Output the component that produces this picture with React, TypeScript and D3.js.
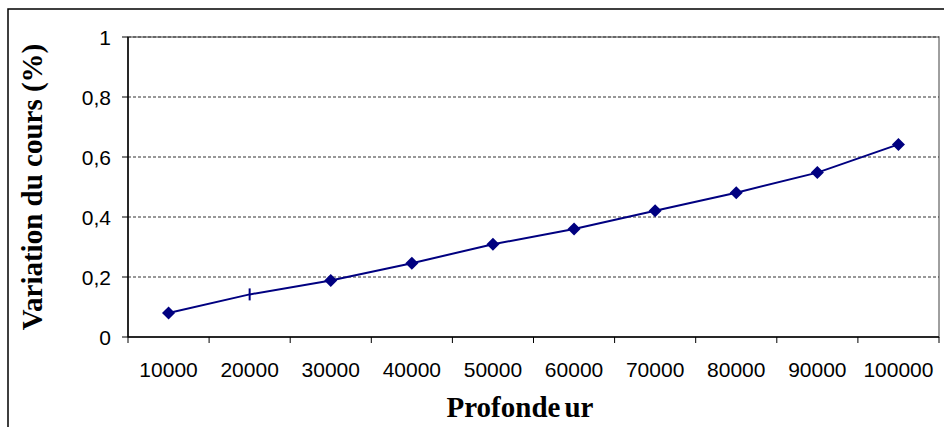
import React from "react";
import * as d3 from "d3";

// Categories (depth) and measured price variation (%)
const categories: string[] = ["10000", "20000", "30000", "40000", "50000", "60000", "70000", "80000", "90000", "100000"];
const variation: number[] = [0.08, 0.142, 0.188, 0.246, 0.309, 0.36, 0.421, 0.481, 0.548, 0.642];
// Point drawn with a dash marker instead of a diamond
const dashPoints: string[] = ["20000"];
const yTicks: number[] = [0, 0.2, 0.4, 0.6, 0.8, 1];
const yTickLabels: string[] = ["0", "0,2", "0,4", "0,6", "0,8", "1"];

const W = 944;
const H = 427;
const plot = { left: 128, right: 939, top: 37, bottom: 337 };

export default function App() {
  const x = d3.scaleBand<string>().domain(categories).range([plot.left, plot.right]).padding(0);
  const y = d3.scaleLinear().domain([0, 1]).range([plot.bottom, plot.top]);
  const cx = (c: string) => (x(c) ?? 0) + x.bandwidth() / 2;

  const data = categories.map((c, i) => ({ c, v: variation[i] }));
  const line = d3
    .line<{ c: string; v: number }>()
    .x((d) => cx(d.c))
    .y((d) => y(d.v));
  const diamond = d3.symbol().type(d3.symbolSquare).size(85)() ?? "";

  const boundaries = [...categories.map((c) => x(c) ?? 0), plot.right];
  const navy = "#000080";

  return (
    <svg
      width={W}
      height={H}
      style={{ position: "absolute", left: 0, top: 0, background: "#fff" }}
      fontFamily="'Liberation Sans', Arial, sans-serif"
    >
      {/* chart frame */}
      <rect x={8} y={9} width={W + 20} height={H + 20} fill="#fff" stroke="#000" strokeWidth={1.5} />

      {/* plot area border */}
      <rect
        x={plot.left}
        y={plot.top}
        width={plot.right - plot.left}
        height={plot.bottom - plot.top}
        fill="#fff"
        stroke="#808080"
        strokeWidth={1.5}
      />

      {/* horizontal gridlines */}
      {yTicks.slice(1).map((t) => (
        <line
          key={`g${t}`}
          x1={plot.left}
          x2={plot.right}
          y1={y(t)}
          y2={y(t)}
          stroke="#333"
          strokeWidth={1}
          strokeDasharray="3,2"
        />
      ))}

      {/* y axis */}
      <line x1={plot.left} x2={plot.left} y1={plot.top} y2={plot.bottom} stroke="#000" strokeWidth={1.5} />
      {yTicks.map((t, i) => (
        <g key={`y${t}`}>
          <line x1={plot.left - 6} x2={plot.left} y1={y(t)} y2={y(t)} stroke="#000" strokeWidth={1} />
          <text x={111} y={y(t)} dy="0.36em" textAnchor="end" fontSize={21} fill="#000">
            {yTickLabels[i]}
          </text>
        </g>
      ))}

      {/* x axis */}
      <line x1={plot.left} x2={plot.right} y1={plot.bottom} y2={plot.bottom} stroke="#000" strokeWidth={1.5} />
      {boundaries.map((b, i) => (
        <line key={`xt${i}`} x1={b} x2={b} y1={plot.bottom} y2={plot.bottom + 6} stroke="#000" strokeWidth={1} />
      ))}
      {categories.map((c) => (
        <text key={`xl${c}`} x={cx(c)} y={377} textAnchor="middle" fontSize={21} fill="#000">
          {c}
        </text>
      ))}

      {/* series */}
      <path d={line(data) ?? ""} fill="none" stroke={navy} strokeWidth={2} />
      {data.map((d) =>
        dashPoints.includes(d.c) ? (
          <line
            key={`m${d.c}`}
            x1={cx(d.c)}
            x2={cx(d.c)}
            y1={y(d.v) - 6}
            y2={y(d.v) + 6}
            stroke={navy}
            strokeWidth={2}
          />
        ) : (
          <path
            key={`m${d.c}`}
            d={diamond}
            transform={`translate(${cx(d.c)},${y(d.v)}) rotate(45)`}
            fill={navy}
          />
        )
      )}

      {/* axis titles */}
      <text
        x={520}
        y={417}
        textAnchor="middle"
        fontFamily="'Liberation Serif', 'Times New Roman', serif"
        fontWeight="bold"
        fontSize={29}
        fill="#000"
      >
        Profonde<tspan dx={4}>ur</tspan>
      </text>
      <text
        transform={`translate(42,${(plot.top + plot.bottom) / 2}) rotate(-90)`}
        textAnchor="middle"
        fontFamily="'Liberation Serif', 'Times New Roman', serif"
        fontWeight="bold"
        fontSize={29}
        fill="#000"
      >
        Variation du cours (%)
      </text>
    </svg>
  );
}
